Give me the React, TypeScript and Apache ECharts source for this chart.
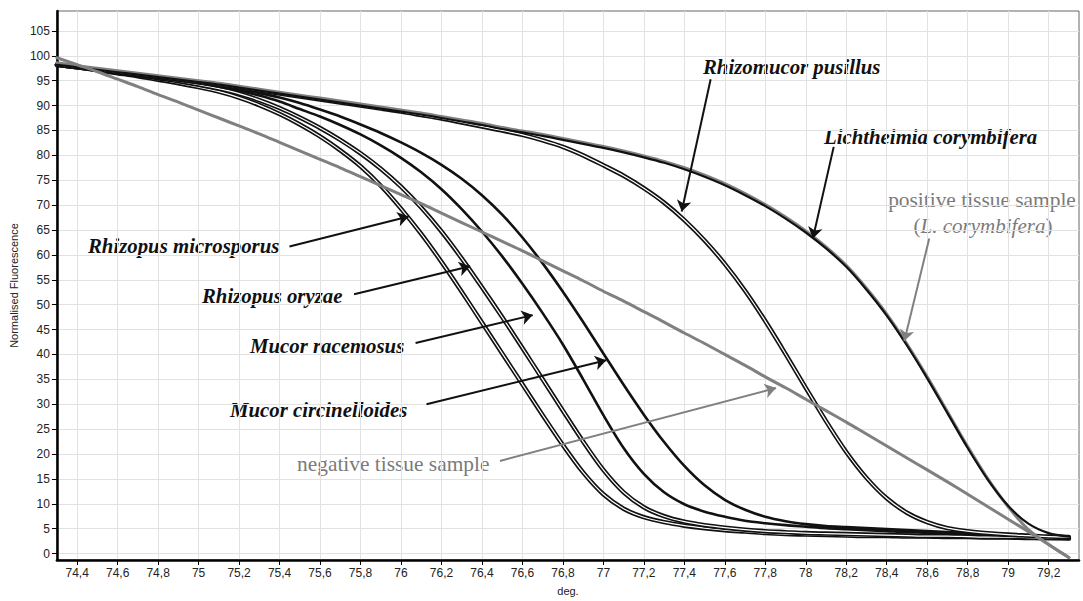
import React, { useEffect, useRef } from "react";
import * as echarts from "echarts";

// Temperature grid (deg.)
const temps = [
  74.3, 74.4, 74.5, 74.6, 74.7, 74.8, 74.9, 75.0, 75.1, 75.2,
  75.3, 75.4, 75.5, 75.6, 75.7, 75.8, 75.9, 76.0, 76.1, 76.2,
  76.3, 76.4, 76.5, 76.6, 76.7, 76.8, 76.9, 77.0, 77.1, 77.2,
  77.3, 77.4, 77.5, 77.6, 77.7, 77.8, 77.9, 78.0, 78.1, 78.2,
  78.3, 78.4, 78.5, 78.6, 78.7, 78.8, 78.9, 79.0, 79.1, 79.2, 79.3,
];

const xTickValues = [
  74.4, 74.6, 74.8, 75.0, 75.2, 75.4, 75.6, 75.8, 76.0, 76.2, 76.4, 76.6, 76.8,
  77.0, 77.2, 77.4, 77.6, 77.8, 78.0, 78.2, 78.4, 78.6, 78.8, 79.0, 79.2,
];
const xTickLabels = [
  "74,4", "74,6", "74,8", "75", "75,2", "75,4", "75,6", "75,8", "76", "76,2", "76,4", "76,6", "76,8",
  "77", "77,2", "77,4", "77,6", "77,8", "78", "78,2", "78,4", "78,6", "78,8", "79", "79,2",
];
const yTickValues = [0, 5, 10, 15, 20, 25, 30, 35, 40, 45, 50, 55, 60, 65, 70, 75, 80, 85, 90, 95, 100, 105];

// Rhizopus microsporus
const rhizopusMicrosporus = [
  98.2, 97.7, 97.1, 96.5, 95.9, 95.2, 94.5, 93.7, 92.8, 91.6,
  90.1, 88.3, 86.2, 83.8, 81.0, 77.8, 73.9, 69.3, 64.2, 58.6,
  52.6, 46.4, 40.2, 34.0, 27.8, 21.8, 16.3, 11.9, 9.0, 7.3,
  6.3, 5.6, 5.1, 4.7, 4.4, 4.1, 3.9, 3.8, 3.7, 3.6,
  3.5, 3.5, 3.4, 3.4, 3.3, 3.3, 3.2, 3.2, 3.1, 3.1, 3.0,
];
// Rhizopus oryzae
const rhizopusOryzae = [
  98.2, 97.7, 97.2, 96.6, 96.1, 95.5, 94.9, 94.2, 93.4, 92.4,
  91.1, 89.5, 87.6, 85.5, 83.1, 80.4, 77.3, 73.7, 69.5, 64.7,
  59.3, 53.5, 47.5, 41.3, 35.0, 28.7, 22.5, 16.8, 12.3, 9.3,
  7.5, 6.4, 5.7, 5.2, 4.8, 4.5, 4.3, 4.1, 4.0, 3.9,
  3.8, 3.7, 3.6, 3.5, 3.5, 3.4, 3.3, 3.3, 3.2, 3.1, 3.1,
];
// Mucor racemosus
const mucorRacemosus = [
  98.2, 97.7, 97.2, 96.7, 96.2, 95.6, 95.1, 94.5, 93.8, 93.0,
  92.0, 90.8, 89.3, 87.8, 86.1, 84.2, 82.0, 79.5, 76.6, 73.2,
  69.2, 64.7, 59.7, 54.2, 48.3, 42.0, 35.0, 27.8, 21.2, 16.0,
  12.3, 9.9, 8.4, 7.4, 6.6, 6.1, 5.7, 5.4, 5.1, 4.9,
  4.7, 4.5, 4.3, 4.2, 4.0, 3.9, 3.8, 3.6, 3.5, 3.4, 3.3,
];
// Mucor circinelloides
const mucorCircinelloides = [
  98.2, 97.7, 97.2, 96.7, 96.2, 95.7, 95.2, 94.6, 94.0, 93.3,
  92.5, 91.6, 90.5, 89.2, 87.8, 86.2, 84.5, 82.6, 80.5, 78.1,
  75.3, 72.0, 68.1, 63.5, 58.3, 52.6, 46.5, 40.2, 33.9, 27.9,
  22.4, 17.6, 13.7, 10.8, 8.8, 7.4, 6.5, 5.9, 5.5, 5.3,
  5.1, 4.9, 4.7, 4.5, 4.3, 4.1, 3.9, 3.7, 3.6, 3.4, 3.3,
];
// Rhizomucor pusillus
const rhizomucorPusillus = [
  98.2, 97.7, 97.2, 96.7, 96.2, 95.7, 95.2, 94.7, 94.2, 93.6,
  93.0, 92.4, 91.8, 91.2, 90.6, 90.0, 89.4, 88.8, 88.1, 87.4,
  86.6, 85.8, 85.0, 84.1, 83.0, 81.7, 80.0, 78.0, 75.9, 73.4,
  70.5, 67.0, 62.9, 58.2, 52.8, 46.7, 40.1, 33.3, 26.6, 20.4,
  15.2, 11.1, 8.2, 6.3, 5.1, 4.5, 4.1, 3.8, 3.6, 3.4, 3.3,
];
// Lichtheimia corymbifera
const lichtheimiaCorymbifera = [
  98.2, 97.7, 97.2, 96.7, 96.2, 95.7, 95.2, 94.7, 94.2, 93.6,
  93.0, 92.4, 91.8, 91.2, 90.6, 90.0, 89.4, 88.8, 88.2, 87.5,
  86.8, 86.1, 85.3, 84.6, 83.9, 83.1, 82.3, 81.5, 80.6, 79.6,
  78.5, 77.2, 75.7, 74.0, 72.0, 69.8, 67.3, 64.5, 61.3, 57.6,
  53.0, 47.8, 41.8, 35.2, 28.2, 21.2, 14.8, 9.6, 6.0, 4.1, 3.4,
];
// positive tissue sample (L. corymbifera)
const positiveTissue = [
  98.6, 98.0, 97.5, 97.0, 96.5, 96.0, 95.5, 95.0, 94.5, 93.9,
  93.3, 92.7, 92.1, 91.5, 90.9, 90.3, 89.7, 89.1, 88.5, 87.8,
  87.1, 86.4, 85.6, 84.9, 84.2, 83.4, 82.6, 81.8, 80.9, 79.9,
  78.8, 77.5, 76.0, 74.3, 72.3, 70.1, 67.6, 64.8, 61.6, 57.9,
  53.3, 48.1, 42.1, 35.5, 28.5, 21.5, 15.0, 9.4, 4.8, 1.8, -0.8,
];
// negative tissue sample
const negativeTissue = [
  99.6, 98.2, 96.8, 95.3, 93.8, 92.2, 90.7, 89.1, 87.5, 85.9,
  84.3, 82.6, 80.9, 79.2, 77.5, 75.7, 73.9, 72.1, 70.3, 68.4,
  66.5, 64.6, 62.7, 60.8, 58.8, 56.8, 54.8, 52.7, 50.7, 48.6,
  46.5, 44.3, 42.2, 40.0, 37.8, 35.5, 33.3, 31.0, 28.7, 26.4,
  24.0, 21.6, 19.2, 16.8, 14.4, 11.9, 9.4, 6.9, 4.4, 1.8, -0.8,
];

// Annotation arrows in data coordinates: [fromX, fromY, toX, toY]
const blackArrows = [
  [75.449, 61.7, 76.038, 67.7],
  [75.768, 52.1, 76.342, 57.7],
  [76.072, 42.3, 76.651, 47.9],
  [76.126, 30.0, 77.014, 38.85],
  [77.53, 95.3, 77.387, 68.7],
  [78.138, 81.7, 78.035, 63.3],
];
const grayArrows = [
  [76.489, 18.6, 77.853, 33.25],
  [78.61, 63.3, 78.487, 42.7],
];

const toData = (arr: number[]) => temps.map((t, i) => [t, arr[i]]);

const BLACK = "#111111";
const GRAY = "#808080";

function lineSeries(name: string, arr: number[], color: string, width: number, z: number) {
  return {
    name,
    type: "line",
    data: toData(arr),
    showSymbol: false,
    symbol: "none",
    smooth: 0.3,
    silent: true,
    z,
    lineStyle: { color, width, cap: "round", join: "round" },
  };
}

function arrowLines(list: number[][]) {
  return list.map((a) => [{ coord: [a[0], a[1]] }, { coord: [a[2], a[3]] }]);
}

export default function App() {
  const ref = useRef<HTMLDivElement>(null);

  useEffect(() => {
    if (!ref.current) return;
    const chart = echarts.init(ref.current, undefined, { renderer: "svg" });
    const axisFont = "'Liberation Sans', Arial, sans-serif";
    const serif = "'Liberation Serif', 'Times New Roman', serif";

    const a = lineSeries("Rhizopus microsporus", rhizopusMicrosporus, BLACK, 4.5, 2);
    const aInner = lineSeries("Rhizopus microsporus inner", rhizopusMicrosporus, "#ffffff", 1.2, 2);
    const b = lineSeries("Rhizopus oryzae", rhizopusOryzae, BLACK, 4.5, 2);
    const bInner = lineSeries("Rhizopus oryzae inner", rhizopusOryzae, "#ffffff", 1.2, 2);
    const c: any = lineSeries("Mucor racemosus", mucorRacemosus, BLACK, 2.6, 2);
    const d = lineSeries("Mucor circinelloides", mucorCircinelloides, BLACK, 2.6, 2);
    const e = lineSeries("Rhizomucor pusillus", rhizomucorPusillus, BLACK, 4.5, 2);
    const eInner = lineSeries("Rhizomucor pusillus inner", rhizomucorPusillus, "#ffffff", 1.2, 2);
    const p = lineSeries("positive tissue sample", positiveTissue, GRAY, 3, 3);
    const f = lineSeries("Lichtheimia corymbifera", lichtheimiaCorymbifera, BLACK, 2.2, 3);
    const n: any = lineSeries("negative tissue sample", negativeTissue, GRAY, 3, 4);

    c.markLine = {
      silent: true,
      symbol: ["none", "arrow"],
      symbolSize: 11,
      animation: false,
      label: { show: false },
      lineStyle: { color: BLACK, width: 2, type: "solid" },
      emphasis: { disabled: true },
      data: arrowLines(blackArrows),
      z: 10,
    };
    n.markLine = {
      silent: true,
      symbol: ["none", "arrow"],
      symbolSize: 11,
      animation: false,
      label: { show: false },
      lineStyle: { color: GRAY, width: 2, type: "solid" },
      emphasis: { disabled: true },
      data: arrowLines(grayArrows),
      z: 10,
    };

    const labelFor = (v: number) => {
      const i = xTickValues.findIndex((t) => Math.abs(t - v) < 1e-6);
      return i >= 0 ? xTickLabels[i] : "";
    };

    const speciesStyle = {
      font: `italic bold 20.8px ${serif}`,
      fill: "#111",
    };
    const graySty = {
      font: `21.4px ${serif}`,
      fill: "#7a7a7a",
    };

    const option: any = {
      animation: false,
      backgroundColor: "#ffffff",
      grid: {
        left: 51,
        top: 11,
        right: 4,
        bottom: 38,
        show: true,
        borderColor: "#666",
        borderWidth: 1,
        backgroundColor: "transparent",
      },
      xAxis: {
        type: "value",
        min: 74.3,
        max: 79.35,
        name: "deg.",
        nameLocation: "middle",
        nameGap: 25,
        nameTextStyle: { fontFamily: axisFont, fontSize: 11, color: "#222" },
        axisLine: { show: true, onZero: false, lineStyle: { color: "#000", width: 2.5 } },
        axisTick: { show: true, customValues: xTickValues, length: 5, lineStyle: { color: "#000", width: 1 } },
        axisLabel: {
          customValues: xTickValues,
          formatter: (v: number) => labelFor(v),
          fontFamily: axisFont,
          fontSize: 12,
          color: "#222",
          margin: 7,
        },
        splitLine: { show: true, lineStyle: { color: "#e2e2e2", width: 1 } },
      },
      yAxis: {
        type: "value",
        min: -1.3,
        max: 109,
        name: "Normalised Fluorescence",
        nameLocation: "middle",
        nameGap: 33,
        nameTextStyle: { fontFamily: axisFont, fontSize: 11, color: "#222" },
        axisLine: { show: true, onZero: false, lineStyle: { color: "#000", width: 2.5 } },
        axisTick: { show: true, customValues: yTickValues, length: 5, lineStyle: { color: "#000", width: 1 } },
        axisLabel: {
          customValues: yTickValues,
          fontFamily: axisFont,
          fontSize: 12,
          color: "#222",
          margin: 7,
        },
        splitLine: { show: true, lineStyle: { color: "#e2e2e2", width: 1 } },
      },
      series: [a, aInner, b, bInner, c, d, e, eInner, p, f, n],
      graphic: [
        { type: "text", x: 88, y: 245, style: { ...speciesStyle, text: "Rhizopus microsporus", textVerticalAlign: "middle" } },
        { type: "text", x: 202, y: 295, style: { ...speciesStyle, text: "Rhizopus oryzae", textVerticalAlign: "middle" } },
        { type: "text", x: 250, y: 345, style: { ...speciesStyle, text: "Mucor racemosus", textVerticalAlign: "middle" } },
        { type: "text", x: 230, y: 409, style: { ...speciesStyle, text: "Mucor circinelloides", textVerticalAlign: "middle" } },
        { type: "text", x: 703, y: 66, style: { ...speciesStyle, text: "Rhizomucor pusillus", textVerticalAlign: "middle" } },
        { type: "text", x: 824, y: 136, style: { ...speciesStyle, text: "Lichtheimia corymbifera", textVerticalAlign: "middle" } },
        { type: "text", x: 297, y: 464, style: { ...graySty, text: "negative tissue sample", textVerticalAlign: "middle" } },
        { type: "text", x: 982, y: 200, style: { ...graySty, text: "positive tissue sample", textAlign: "center", textVerticalAlign: "middle" } },
        {
          type: "text",
          x: 983,
          y: 226,
          style: {
            text: "{a|(}{b|L. corymbifera}{a|)}",
            textAlign: "center",
            textVerticalAlign: "middle",
            rich: {
              a: { fontFamily: serif, fontSize: 21, fill: "#7a7a7a", color: "#7a7a7a" } as any,
              b: { fontFamily: serif, fontSize: 21, fontStyle: "italic", fill: "#7a7a7a", color: "#7a7a7a" } as any,
            },
          },
        },
      ],
    };

    chart.setOption(option);
    return () => {
      chart.dispose();
    };
  }, []);

  return (
    <div
      ref={ref}
      style={{ position: "fixed", left: 0, top: 0, width: 1083, height: 601, background: "#fff" }}
    />
  );
}
